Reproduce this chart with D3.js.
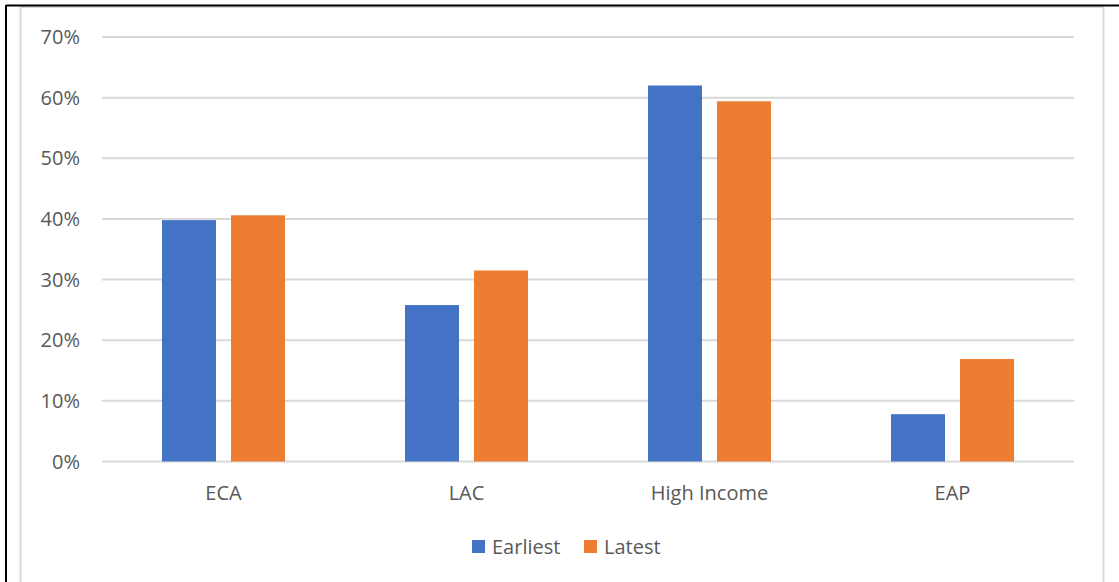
<!DOCTYPE html>
<html><head><meta charset="utf-8">
<script src="https://cdn.jsdelivr.net/npm/d3@7"></script>
<style>html,body{margin:0;padding:0;background:#fff;}svg{display:block;}</style>
</head><body>
<svg id="chart" width="1119" height="582"></svg>
<script>
const categories = ["ECA", "LAC", "High Income", "EAP"];
const seriesNames = ["Earliest", "Latest"];
const earliest = [0.398, 0.258, 0.620, 0.078];
const latest = [0.406, 0.315, 0.594, 0.169];
const yTicks = [0, 0.1, 0.2, 0.3, 0.4, 0.5, 0.6, 0.7];
const colors = ["#4472C4", "#ED7D31"];

const svg = d3.select("#chart");
const font = "'Open Sans', 'Noto Sans', sans-serif";
const textColor = "#595959";
const fs = "20px";

// outer frame
svg.append("rect").attr("x", 20.5).attr("y", 7).attr("width", 1083).attr("height", 590)
  .attr("fill", "#fff").attr("stroke", "#d9d9d9").attr("stroke-width", 2);
svg.append("line").attr("x1", 6).attr("x2", 1119).attr("y1", 5.5).attr("y2", 5.5).attr("stroke", "#000").attr("stroke-width", 2);
svg.append("line").attr("x1", 6).attr("x2", 6).attr("y1", 5).attr("y2", 582).attr("stroke", "#000").attr("stroke-width", 2);

const x = d3.scaleBand().domain(categories).range([102, 1074]);
const y = d3.scaleLinear().domain([0, 0.7]).range([461.5, 37]);

const g = svg.append("g");
// gridlines
g.selectAll("line.grid").data(yTicks).enter().append("line")
  .attr("x1", 102).attr("x2", 1074)
  .attr("y1", d => y(d)).attr("y2", d => y(d))
  .attr("stroke", "#d9d9d9").attr("stroke-width", 2);

// y labels
g.selectAll("text.ytick").data(yTicks).enter().append("text")
  .attr("x", 80).attr("y", d => y(d)).attr("dy", "0.35em")
  .attr("text-anchor", "end").attr("fill", textColor)
  .style("font-family", font).style("font-size", fs)
  .text(d => d3.format(".0%")(d));

// bars
const bw = x.bandwidth();
const barW = bw * 54 / 243;
const gap = bw * 15 / 243;
const series = [earliest, latest];
const x1 = d3.scaleBand().domain(seriesNames).range([0, barW * 2 + gap]).paddingInner(gap / (barW + gap));
series.forEach((vals, si) => {
  g.selectAll("rect.s" + si).data(categories).enter().append("rect")
    .attr("x", c => x(c) + bw / 2 - (barW * 2 + gap) / 2 + x1(seriesNames[si]))
    .attr("y", (c, i) => y(vals[i]))
    .attr("width", x1.bandwidth())
    .attr("height", (c, i) => y(0) - y(vals[i]))
    .attr("fill", colors[si]);
});

// x labels
g.selectAll("text.xtick").data(categories).enter().append("text")
  .attr("x", c => x(c) + bw / 2).attr("y", 493).attr("dy", "0.35em")
  .attr("text-anchor", "middle").attr("fill", textColor)
  .style("font-family", font).style("font-size", fs)
  .text(c => c);

// legend
const legend = svg.append("g");
const legendX = [472, 584];
seriesNames.forEach((n, i) => {
  legend.append("rect").attr("x", legendX[i]).attr("y", 540).attr("width", 13).attr("height", 13).attr("fill", colors[i]);
  legend.append("text").attr("x", legendX[i] + 20).attr("y", 546.5).attr("dy", "0.35em")
    .attr("fill", textColor).style("font-family", font).style("font-size", fs).text(n);
});
</script>
</body></html>
